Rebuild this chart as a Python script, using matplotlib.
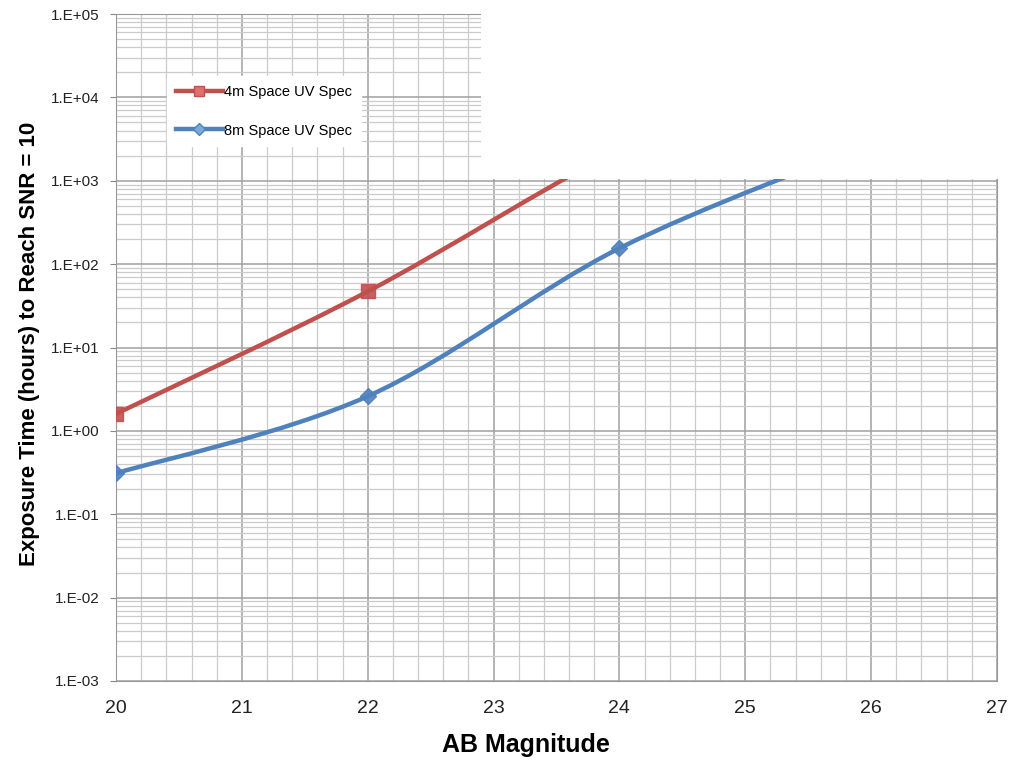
import numpy as np
import matplotlib.pyplot as plt
from matplotlib.path import Path
from matplotlib.patches import PathPatch, Rectangle
from matplotlib.lines import Line2D
from matplotlib.ticker import MultipleLocator, LogLocator, FixedLocator, NullFormatter

plt.rcParams['font.family'] = ['Liberation Sans Narrow', 'Liberation Sans', 'DejaVu Sans']

# data (points above 1E+03 sit under the white box)
mag = [20, 22, 24, 26]
time_4m = [1.6, 47, 2400, 6.0e4]
time_8m = [0.31, 2.6, 155, 2800]

series_names = ["4m Space UV Spec", "8m Space UV Spec"]
y_ticks = [1e-3, 1e-2, 1e-1, 1e0, 1e1, 1e2, 1e3, 1e4, 1e5]
y_tick_labels = ["1.E-03", "1.E-02", "1.E-01", "1.E+00", "1.E+01",
                 "1.E+02", "1.E+03", "1.E+04", "1.E+05"]
x_ticks = [20, 21, 22, 23, 24, 25, 26, 27]

red = "#C0504D"
blue = "#4F81BD"


def smooth_path(xs, ys):
    # excel style smoothed line: bezier segments in (x, log y) space
    px = np.array(xs, float)
    py = np.log10(ys)
    n = len(px)
    verts = [(px[0], py[0])]
    for i in range(n - 1):
        a = max(i - 1, 0)
        b = min(i + 2, n - 1)
        c1 = (px[i] + (px[i + 1] - px[a]) / 6, py[i] + (py[i + 1] - py[a]) / 6)
        c2 = (px[i + 1] - (px[b] - px[i]) / 6, py[i + 1] - (py[b] - py[i]) / 6)
        verts += [c1, c2, (px[i + 1], py[i + 1])]
    verts = [(x, 10 ** y) for x, y in verts]
    codes = [Path.MOVETO] + [Path.CURVE4] * (len(verts) - 1)
    return Path(verts, codes)


fig = plt.figure(figsize=(10.24, 7.61), dpi=100)
ax = fig.add_axes([116 / 1024, 1 - 681 / 761, 881 / 1024, 667 / 761])

ax.set_yscale('log')
ax.set_xlim(20, 27)
ax.set_ylim(1e-3, 1e5)

ax.xaxis.set_major_locator(FixedLocator(x_ticks))
ax.xaxis.set_minor_locator(MultipleLocator(0.2))
ax.yaxis.set_major_locator(FixedLocator(y_ticks))
ax.yaxis.set_minor_locator(LogLocator(base=10, subs=np.arange(2, 10)))
ax.yaxis.set_minor_formatter(NullFormatter())
ax.set_yticklabels(y_tick_labels)
ax.set_xticklabels([str(v) for v in x_ticks])

ax.grid(which='major', color='#a0a0a0', lw=1.1, zorder=0)
ax.grid(which='minor', color='#cbcbcb', lw=0.9, zorder=0)
ax.set_axisbelow(True)
ax.tick_params(which='minor', length=0)
ax.tick_params(axis='y', which='major', length=4, color='#888888', labelsize=11,
               pad=8, labelcolor='#222222')
ax.tick_params(axis='x', which='major', length=0, labelsize=14, pad=14,
               labelcolor='#222222')
for s in ax.spines.values():
    s.set_color('#999999')

for t, col, mk, ms in [(time_4m, red, 's', 10), (time_8m, blue, 'D', 8)]:
    ax.add_patch(PathPatch(smooth_path(mag, t), fill=False, edgecolor=col, lw=3.2,
                           capstyle='round', zorder=3))
    ax.plot(mag, t, ls='none', marker=mk, ms=ms, mfc=col, mec=col, alpha=0.9, zorder=4)

handles = [Line2D([], [], color=red, lw=3.2, marker='s', ms=7, mfc='#e07070', mec=red),
           Line2D([], [], color=blue, lw=3.2, marker='D', ms=6, mfc='#7aaadd', mec=blue)]
leg = ax.legend(handles, series_names, loc='upper left', bbox_to_anchor=(0.05, 0.918),
                frameon=True, fontsize=10.5, handlelength=3.2, handletextpad=0.1,
                labelspacing=1.7, borderpad=0.6)
leg.get_frame().set_edgecolor('white')
leg.get_frame().set_facecolor('white')
leg.get_frame().set_alpha(1)

# white box pasted over the upper right part of the plot
ax.add_patch(Rectangle((0.414, 0.752), 0.7, 0.3, transform=ax.transAxes,
                       facecolor='white', edgecolor='none', clip_on=False, zorder=10))

fig.text(30 / 1024, 1 - 344 / 761, "Exposure Time (hours) to Reach SNR = 10",
         rotation=90, ha='center', va='center', fontsize=16, fontweight='bold')
fig.text(526 / 1024, 1 - 745 / 761, "AB Magnitude", ha='center', va='center',
         fontsize=18, fontweight='bold')

fig.savefig("out.png", dpi=100)
